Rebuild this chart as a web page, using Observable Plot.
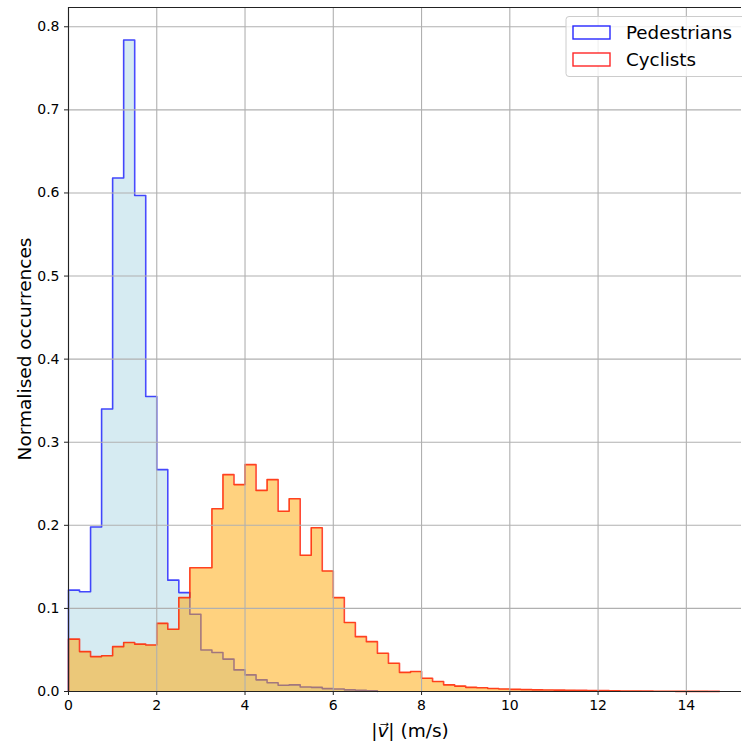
<!DOCTYPE html>
<html>
<head>
<meta charset="utf-8">
<script src="https://cdn.jsdelivr.net/npm/d3@7"></script>
<script src="https://cdn.jsdelivr.net/npm/@observablehq/plot@0.6"></script>
<style>
  html, body { margin: 0; padding: 0; background: white; overflow: hidden; }
  #chart { position: relative; width: 742px; height: 744px; }
</style>
</head>
<body>
<div id="chart"></div>
<script>
// ---- data ----
const binWidth = 0.25;
const pedestrians = [0.122, 0.120, 0.198, 0.340, 0.618, 0.784, 0.597, 0.355,
  0.267, 0.134, 0.119, 0.093, 0.050, 0.047, 0.039, 0.026, 0.020, 0.014, 0.0105,
  0.0075, 0.008, 0.0055, 0.005, 0.0035, 0.003, 0.002, 0.0015, 0.0008];
const cyclists = [0.063, 0.048, 0.042, 0.043, 0.054, 0.059, 0.057, 0.056,
  0.082, 0.075, 0.113, 0.149, 0.149, 0.220, 0.261, 0.249, 0.273, 0.242, 0.255,
  0.217, 0.232, 0.164, 0.197, 0.145, 0.113, 0.083, 0.066, 0.060, 0.046, 0.034,
  0.023, 0.024, 0.016, 0.012, 0.008, 0.0065, 0.005, 0.0045, 0.0037, 0.003,
  0.0026, 0.0023, 0.002, 0.0018, 0.0016, 0.0014, 0.0013, 0.0011, 0.0010,
  0.0009, 0.0006, 0.0005, 0.0004, 0.0003, 0.0003, 0.0002, 0.0002, 0.0002, 0.0001];
const seriesNames = ["Pedestrians", "Cyclists"];
const xTicks = [0, 2, 4, 6, 8, 10, 12, 14];
const yTicks = [0, 0.1, 0.2, 0.3, 0.4, 0.5, 0.6, 0.7, 0.8];
const xDomain = [0, 15.25];
const yDomain = [0, 0.8232];
const xLabel = "(m/s)";
const yLabel = "Normalised occurrences";

// step rows: one point per bin start, plus closing point at last edge
function stepRows(values) {
  const rows = values.map((v, i) => ({x: i * binWidth, y: v}));
  rows.push({x: values.length * binWidth, y: values[values.length - 1]});
  return rows;
}
// outline rows: rise from the baseline at the start, drop back at the end
function outlineRows(values) {
  const rows = stepRows(values);
  return [{x: rows[0].x, y: 0}, ...rows, {x: rows[rows.length - 1].x, y: 0}];
}
const pedRows = stepRows(pedestrians);
const cycRows = stepRows(cyclists);

const W = 742, H = 744;
const font = "'DejaVu Sans', sans-serif";

const plot = Plot.plot({
  width: W,
  height: H,
  marginLeft: 68,
  marginRight: 1,
  marginTop: 7,
  marginBottom: 53,
  style: {fontFamily: font, fontSize: "14px", background: "white", color: "black"},
  x: {domain: xDomain, ticks: xTicks},
  y: {domain: yDomain, ticks: yTicks},
  marks: [
    Plot.areaY(pedRows, {x: "x", y: "y", curve: "step-after",
      fill: "#add8e6", fillOpacity: 0.5}),
    Plot.line(outlineRows(pedestrians), {x: "x", y: "y", curve: "step-after",
      stroke: "#0000ff", strokeOpacity: 0.7, strokeWidth: 1.6}),
    Plot.areaY(cycRows, {x: "x", y: "y", curve: "step-after",
      fill: "#ffa500", fillOpacity: 0.5}),
    Plot.line(outlineRows(cyclists), {x: "x", y: "y", curve: "step-after",
      stroke: "#ff1a00", strokeOpacity: 0.8, strokeWidth: 1.6}),
    Plot.gridX(xTicks, {stroke: "#b0b0b0", strokeOpacity: 1, strokeWidth: 1.1}),
    Plot.gridY(yTicks, {stroke: "#b0b0b0", strokeOpacity: 1, strokeWidth: 1.1}),
    Plot.ruleX([xDomain[0]], {stroke: "#222", strokeWidth: 1.1}),
    Plot.ruleY([yDomain[0]], {stroke: "#222", strokeWidth: 1.1}),
    Plot.ruleY([yDomain[1]], {stroke: "#222", strokeWidth: 1.1}),
    Plot.axisX(xTicks, {tickSize: 4, tickPadding: 5, tickFormat: d => String(d), label: null,
      fontSize: 14, stroke: "#222"}),
    Plot.axisY(yTicks, {tickSize: 4, tickPadding: 5, tickFormat: d3.format(".1f"), label: null,
      fontSize: 14, stroke: "#222"})
  ]
});

document.getElementById("chart").appendChild(plot);

const svg = d3.select(plot);

// axis labels
const xl = svg.append("text")
  .attr("x", 410).attr("y", 737)
  .attr("text-anchor", "middle")
  .attr("font-family", font).attr("font-size", 18.5).attr("fill", "black");
xl.append("tspan").text("|");
xl.append("tspan").attr("font-style", "italic").text("v\u20D7");
xl.append("tspan").text("| " + xLabel);

svg.append("text")
  .attr("transform", "translate(31,349) rotate(-90)")
  .attr("text-anchor", "middle")
  .attr("font-family", font).attr("font-size", 18.5).attr("fill", "black")
  .text(yLabel);

// legend
const lg = svg.append("g").attr("text-anchor", "start");
lg.append("rect")
  .attr("x", 566).attr("y", 16.5).attr("width", 190).attr("height", 60)
  .attr("rx", 3).attr("fill", "white").attr("fill-opacity", 0.8)
  .attr("stroke", "#cccccc").attr("stroke-width", 1);
const legendColors = ["#0000ff", "#ff0000"];
seriesNames.forEach((name, i) => {
  const y = 26 + i * 27;
  lg.append("rect")
    .attr("x", 573).attr("y", y).attr("width", 37).attr("height", 13)
    .attr("fill", "white").attr("stroke", legendColors[i]).attr("stroke-opacity", 0.85)
    .attr("stroke-width", 1.4);
  lg.append("text")
    .attr("x", 626).attr("y", y + 12.5)
    .attr("text-anchor", "start")
    .attr("font-family", font).attr("font-size", 18.3).attr("fill", "black")
    .text(name);
});
</script>
</body>
</html>
